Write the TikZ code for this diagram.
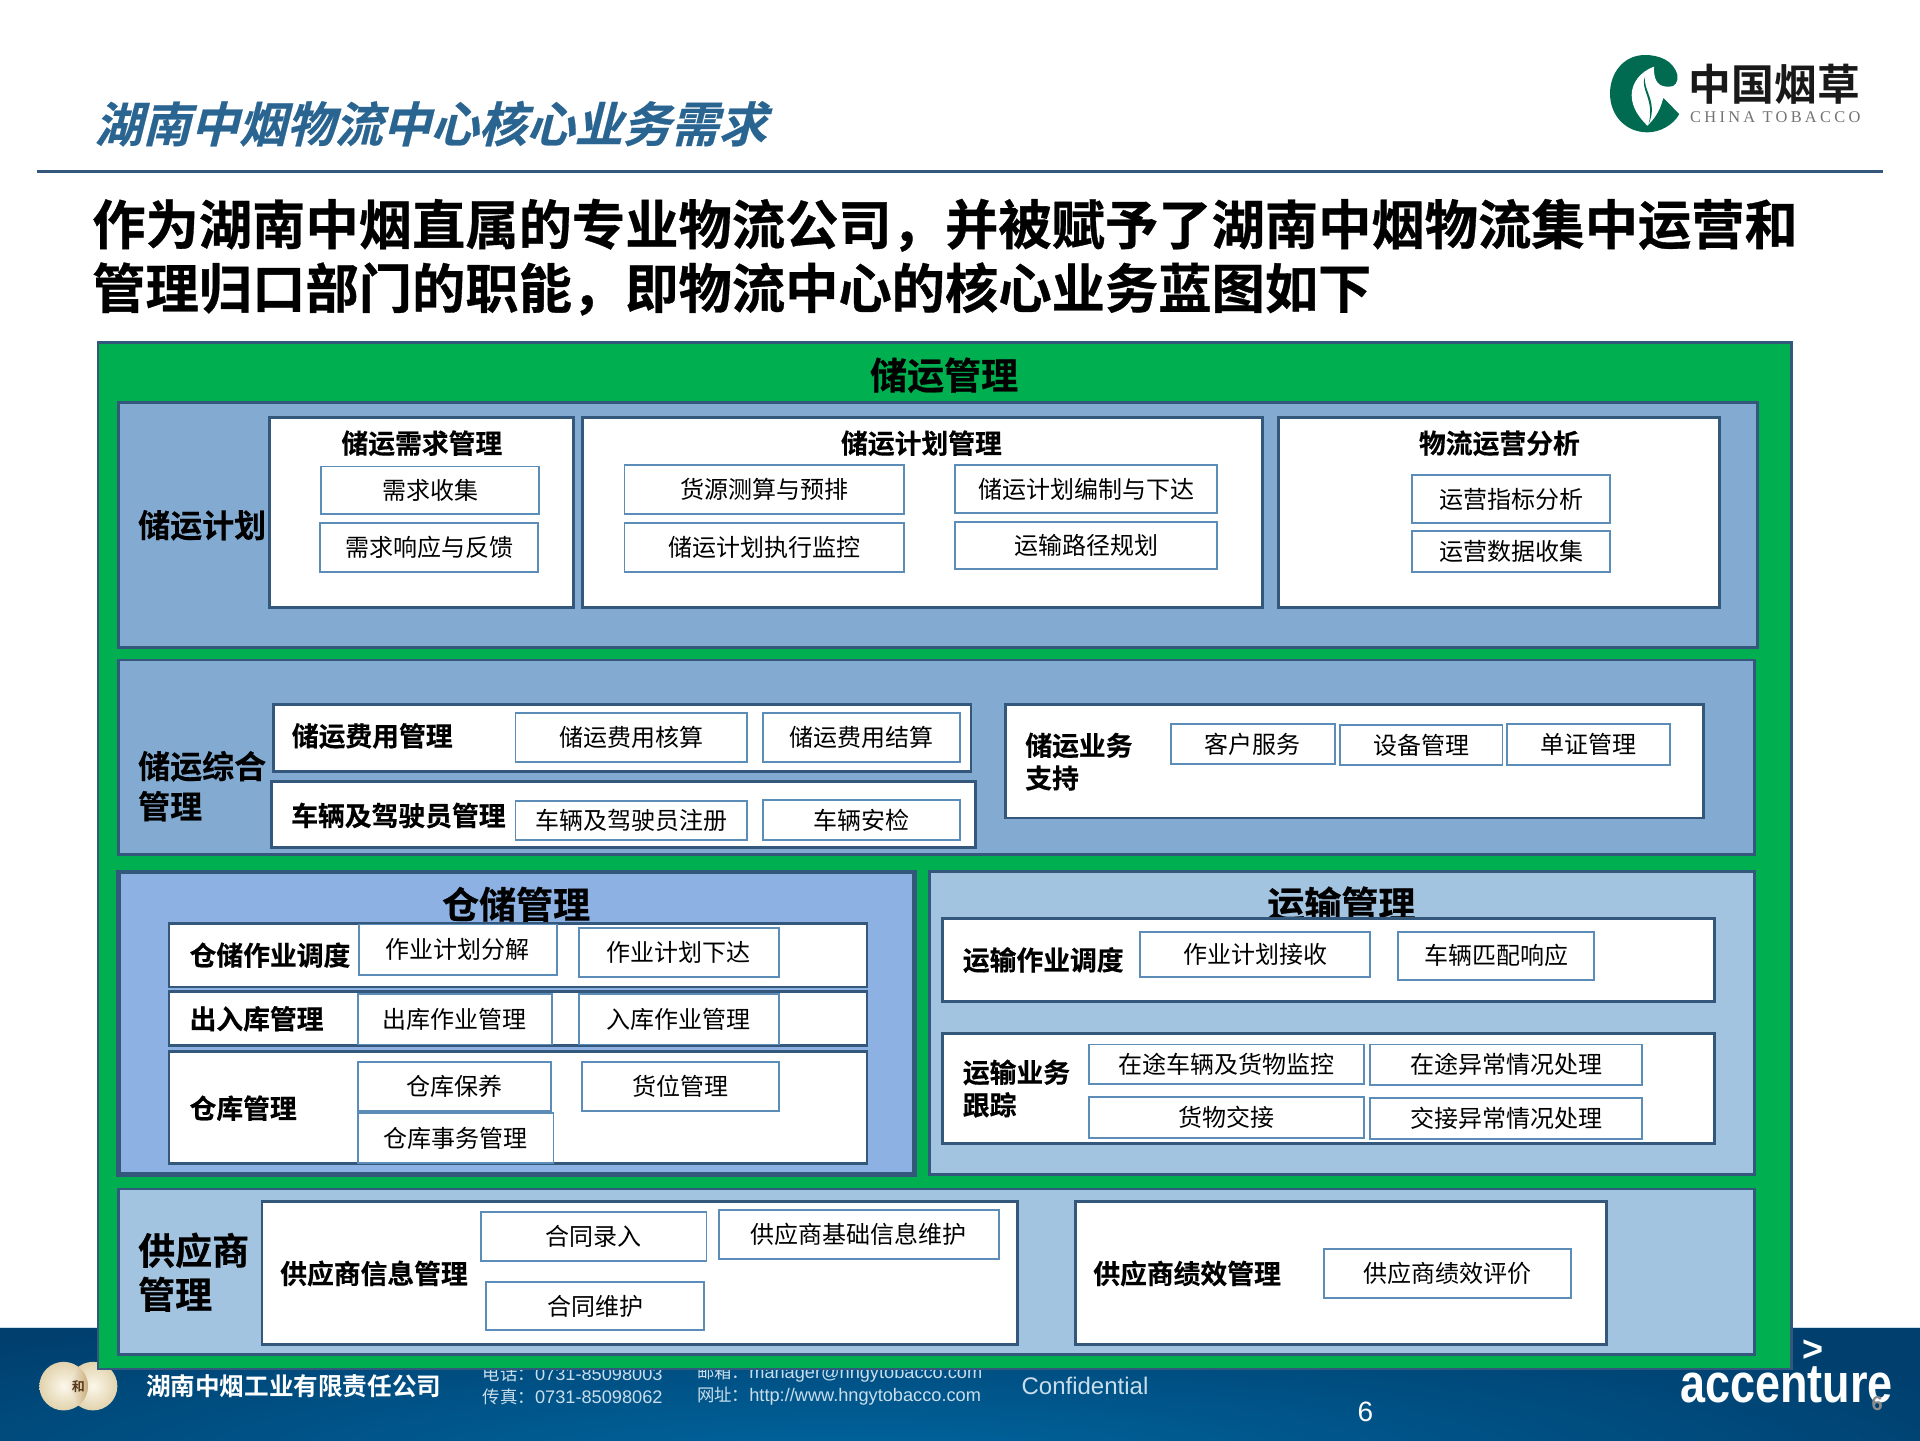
\documentclass[tikz,border=0pt]{standalone}
\usepackage{fontspec}
\setmainfont{Noto Sans CJK SC}
\newfontfamily\cjkr{Noto Sans CJK SC}
\newfontfamily\cjkb[FakeBold=0.35]{Noto Sans CJK SC Bold}
\newfontfamily\cjkh[FakeBold=0.6]{Noto Sans CJK SC Bold}
\newfontfamily\cjkplain{Noto Sans CJK SC Bold}
\newfontfamily\cjkit[FakeSlant=0.25,FakeBold=0.5]{Noto Sans CJK SC Bold}
\newfontfamily\latn{Liberation Sans}
\newfontfamily\latnb{Liberation Sans Bold}
\newfontfamily\logoserif[LetterSpace=20]{Liberation Serif}
\definecolor{bdr}{HTML}{34587C}
\definecolor{thin}{HTML}{5B8DB8}
\definecolor{grn}{HTML}{00B050}
\definecolor{rowa}{HTML}{83ABD2}
\definecolor{rowb}{HTML}{A3C4E0}
\definecolor{rowc}{HTML}{8DB1E3}
\definecolor{logog}{HTML}{006B50}
\definecolor{ttl}{HTML}{2A6592}
\definecolor{foot}{HTML}{C9DDEB}
\definecolor{fa}{HTML}{003F6E}
\definecolor{fb}{HTML}{00659E}
\definecolor{mda}{HTML}{E2D3AE}
\definecolor{mdb}{HTML}{FBF7EA}
\definecolor{mdc}{HTML}{C4A670}
\tikzset{
 panel/.style={draw=bdr,line width=1.45pt,inner sep=0pt,outer sep=0pt},
 grp/.style={panel,fill=white},
 leaf/.style={draw=thin,line width=0.95pt,fill=white,inner sep=0pt,outer sep=0pt,font=\cjkr\fontsize{12}{14}\selectfont},
 lab/.style={anchor=west,inner sep=0pt,font=\cjkb\fontsize{13.4}{16.3}\selectfont,align=left},
 toplab/.style={inner sep=0pt,font=\cjkb\fontsize{13.4}{16}\selectfont},
 rowlab/.style={anchor=west,inner sep=0pt,font=\cjkb\fontsize{16}{20}\selectfont,align=left},
 biglab/.style={inner sep=0pt,font=\cjkh\fontsize{18.5}{22}\selectfont,align=left},
 foottxt/.style={anchor=west,inner sep=0pt,text=foot,font=\cjkr\fontsize{8.7}{10}\selectfont},
 medal/.style={circle,minimum size=24.3pt,inner sep=0pt,outer sep=0pt},
}
\newcommand{\bx}[7]{\node[#2,minimum width=(#5-#3)*0.61224pt,minimum height=(#6-#4)*0.61224pt] (#1) at ({(#3+#5)/2},{(#4+#6)/2}) {#7};}
\newcommand{\num}[1]{{\latn\fontsize{9.1}{10}\selectfont #1}}
\begin{document}
\begin{tikzpicture}[x=0.61224pt,y=-0.61224pt]
\useasboundingbox (0,0) rectangle (1568,1176);
\fill[white] (0,0) rectangle (1568,1176);
% footer
\fill[foot] (0,1083.5) rectangle (1568,1085.5);
\begin{scope}
\clip (0,1085) rectangle (1568,1176);
\fill[fa] (0,1085) rectangle (1568,1176);
\shade[inner color=fb,outer color=fa] (-300,1060) rectangle (1700,1320);
\end{scope}
% medal
\node[medal,inner color=mdb,outer color=mda] (medalb) at (76,1132) {};
\node[medal,inner color=mdb,outer color=mda] (medala) at (52,1132) {};
\begin{scope}
\clip (52,1132) circle (19.9);
\clip (76,1132) circle (19.9);
\shade[left color=mdb,right color=mdc] (54,1110) rectangle (74,1154);
\end{scope}
\node[inner sep=0pt,text=black!55!brown,font=\cjkplain\fontsize{6.5}{8}\selectfont] (medalt) at (64,1132) {和};
\node[anchor=west,inner sep=0pt,text=white,font=\cjkplain\fontsize{12.3}{14}\selectfont] (company) at (119,1132) {湖南中烟工业有限责任公司};
\node[foottxt] (tel) at (394,1122) {电话：\num{0731-85098003}};
\node[foottxt] (fax) at (394,1141) {传真：\num{0731-85098062}};
\node[foottxt] (mail) at (569,1121) {邮箱：\num{manager@hngytobacco.com}};
\node[foottxt] (web) at (569,1140) {网址：\num{http://www.hngytobacco.com}};
% header
\node[anchor=west,inner sep=0pt,text=ttl,font=\cjkit\fontsize{24}{28}\selectfont] (title) at (77,101) {湖南中烟物流中心核心业务需求};
\coordinate (rulea) at (30,140); \coordinate (ruleb) at (1538,140);
\draw[draw=bdr,line width=1.1pt] (rulea) -- (ruleb);
\node[anchor=west,inner sep=0pt,font=\cjkh\fontsize{26.65}{30}\selectfont] (heada) at (75,184) {作为湖南中烟直属的专业物流公司，并被赋予了湖南中烟物流集中运营和};
\node[anchor=west,inner sep=0pt,font=\cjkh\fontsize{26.65}{30}\selectfont] (headb) at (75,236) {管理归口部门的职能，即物流中心的核心业务蓝图如下};
% logo
\begin{scope}[shift={(1274,24.5)},x=0.16666pt,y=-0.16666pt]
\fill[logog] (352,135) .. controls (340,90) and (295,75) .. (255,75) .. controls (190,75) and (150,130) .. (150,190) .. controls (150,260) and (200,307) .. (262,307) .. controls (300,307) and (340,285) .. (358,252) -- (330,170) .. controls (345,170) and (355,155) .. (352,135) -- cycle;
\fill[white] (282,110) .. controls (240,125) and (215,160) .. (215,195) .. controls (215,235) and (240,265) .. (262,287) .. controls (280,270) and (300,245) .. (310,203) -- (362,256) -- (372,172) -- (325,170) .. controls (300,170) and (280,160) .. (282,110) -- cycle;
\fill[logog] (255,140) .. controls (238,175) and (285,210) .. (266,282) .. controls (295,215) and (248,180) .. (255,140) -- cycle;
\end{scope}
\node[anchor=west,inner sep=0pt,text=black!90,font=\cjkplain\fontsize{21.4}{24}\selectfont] (logoa) at (1379,69) {中国烟草};
\node[anchor=west,inner sep=0pt,text=black!55,font=\logoserif\fontsize{8.2}{10}\selectfont] (logob) at (1380,96) {CHINA TOBACCO};
% main frame
\bx{outer}{panel,fill=grn}{80}{280}{1463}{1118}{}
\node[biglab] (mainlab) at (771,306.5) {储运管理};
% row 1
\bx{rowone}{panel,fill=rowa}{97}{329}{1435}{529}{}
\node[rowlab] (lplan) at (112.5,429) {储运计划};
\bx{gdem}{grp}{220}{341}{468}{496}{}
\node[toplab] (tdem) at (344.5,362) {储运需求管理};
\bx{a1}{leaf}{262.5}{381}{440.5}{420}{需求收集}
\bx{a2}{leaf}{261.5}{427}{439.5}{467}{需求响应与反馈}
\bx{gplan}{grp}{476}{341}{1031}{496}{}
\node[toplab] (tplan) at (752.5,362) {储运计划管理};
\bx{b1}{leaf}{510}{380}{738}{420}{货源测算与预排}
\bx{b2}{leaf}{780}{380}{994}{419}{储运计划编制与下达}
\bx{b3}{leaf}{510}{427}{738}{467}{储运计划执行监控}
\bx{b4}{leaf}{780}{426}{994}{465}{运输路径规划}
\bx{gana}{grp}{1044}{341}{1404}{496}{}
\node[toplab] (tana) at (1224.5,362) {物流运营分析};
\bx{c1}{leaf}{1153}{388}{1315}{427}{运营指标分析}
\bx{c2}{leaf}{1153}{434}{1315}{467}{运营数据收集}
% row 2
\bx{rowtwo}{panel,fill=rowa}{97}{539}{1433}{698}{}
\node[rowlab,text width=70pt] (lgen) at (112.5,642) {储运综合\\管理};
\bx{gfee}{grp}{223}{575}{793}{630}{}
\node[lab] (tfee) at (238,601) {储运费用管理};
\bx{d1}{leaf}{421}{582}{610}{622}{储运费用核算}
\bx{d2}{leaf}{623}{582}{784}{622}{储运费用结算}
\bx{gveh}{grp}{222}{638}{797}{692}{}
\node[lab] (tveh) at (237.5,666) {车辆及驾驶员管理};
\bx{e1}{leaf}{421}{654}{610}{686}{车辆及驾驶员注册}
\bx{e2}{leaf}{623}{653}{784}{686}{车辆安检}
\bx{gsup}{grp}{821}{575}{1391}{668}{}
\node[lab] (tsup) at (837,622) {储运业务\\支持};
\bx{f1}{leaf}{956}{591}{1090}{624}{客户服务}
\bx{f2}{leaf}{1094}{592}{1227}{625}{设备管理}
\bx{f3}{leaf}{1231}{591}{1364}{625}{单证管理}
% row 3 left
\bx{rowwh}{panel,fill=rowc,line width=2.3pt}{97}{712}{747}{959}{}
\node[biglab] (lwh) at (421.5,738.5) {仓储管理};
\bx{gwa}{grp}{138}{754}{708}{806}{}
\node[lab] (twa) at (154.5,780) {仓储作业调度};
\bx{g1}{leaf}{293}{755}{455}{796}{作业计划分解}
\bx{g2}{leaf}{473}{758}{636}{798}{作业计划下达}
\bx{gwb}{grp}{138}{810}{708}{854}{}
\node[lab] (twb) at (154.5,832) {出入库管理};
\bx{h1}{leaf}{292}{812}{451}{853}{出库作业管理}
\bx{h2}{leaf}{473}{812}{636}{853}{入库作业管理}
\bx{gwc}{grp}{138}{859}{708}{950}{}
\node[lab] (twc) at (154.5,905) {仓库管理};
\bx{i1}{leaf}{292}{867}{450}{907}{仓库保养}
\bx{i2}{leaf}{475}{867}{636}{907}{货位管理}
\bx{i3}{leaf}{292}{909}{452}{950}{仓库事务管理}
% row 3 right
\bx{rowtr}{panel,fill=rowb}{759}{712}{1433}{959}{}
\node[biglab] (ltr) at (1095.5,738.5) {运输管理};
\bx{gta}{grp}{770}{750}{1400}{818}{}
\node[lab] (tta) at (786,784) {运输作业调度};
\bx{j1}{leaf}{931}{761}{1119}{798}{作业计划接收}
\bx{j2}{leaf}{1142}{761}{1302}{800}{车辆匹配响应}
\bx{gtb}{grp}{770}{844}{1400}{934}{}
\node[lab] (ttb) at (786,889) {运输业务\\跟踪};
\bx{k1}{leaf}{889}{853}{1114}{885}{在途车辆及货物监控}
\bx{k2}{leaf}{1119}{853}{1341}{886}{在途异常情况处理}
\bx{k3}{leaf}{889}{896}{1114}{929}{货物交接}
\bx{k4}{leaf}{1119}{897}{1341}{930}{交接异常情况处理}
% row 4
\bx{rowsp}{panel,fill=rowb}{97}{971}{1433}{1106}{}
\node[biglab,anchor=west,align=left] (lsp) at (112.5,1039) {供应商\\管理};
\bx{gsa}{grp}{214}{981}{831}{1098}{}
\node[lab] (tsa) at (228.5,1040) {供应商信息管理};
\bx{l1}{leaf}{393}{990}{577}{1030}{合同录入}
\bx{l2}{leaf}{587}{988}{816}{1028}{供应商基础信息维护}
\bx{l3}{leaf}{397}{1047}{575}{1086}{合同维护}
\bx{gsb}{grp}{878}{981}{1312}{1098}{}
\node[lab] (tsb) at (892.5,1040) {供应商绩效管理};
\bx{m1}{leaf}{1081}{1020}{1283}{1060}{供应商绩效评价}
% footer right
\node[anchor=west,inner sep=0pt,text=foot,font=\latn\fontsize{12}{14}\selectfont] (conf) at (834,1132) {Confidential};
\node[inner sep=0pt,text=white,font=\latn\fontsize{14}{16}\selectfont] (pgw) at (1115,1153) {6};
\node[inner sep=0pt,text=white,font=\latnb\fontsize{18}{20}\selectfont] (gt) at (1481,1103) {>};
\node[anchor=base west,inner sep=0pt,text=white,font=\latnb\fontsize{22.5}{26}\selectfont] (acc) at (1372,1145) {\scalebox{1}[1.22]{accenture}};
\node[inner sep=0pt,text=black!45,font=\latnb\fontsize{10}{12}\selectfont] (pgg) at (1533,1146) {6};
\end{tikzpicture}
\end{document}
